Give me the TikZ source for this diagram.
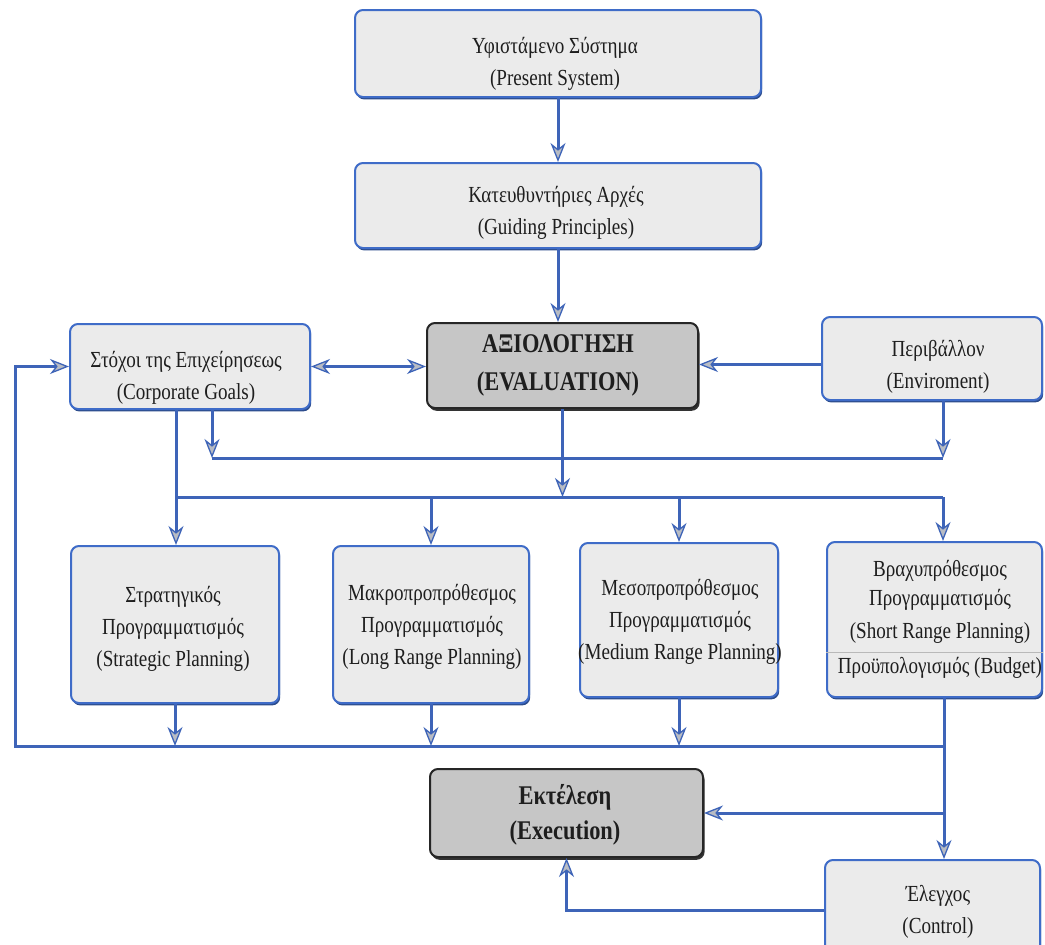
\documentclass[tikz,border=0pt]{standalone}
\usepackage{fontspec}
\setmainfont{Liberation Serif}[FakeStretch=0.83]
\usetikzlibrary{arrows.meta,shadows,calc}

\definecolor{linkblue}{HTML}{3E64B8}
\definecolor{boxblue}{HTML}{3F6CC8}
\definecolor{boxfill}{HTML}{EBEBEB}
\definecolor{keyfill}{HTML}{C6C6C6}
\definecolor{tipgray}{HTML}{B8BCC4}
\definecolor{inkgray}{HTML}{1E1E1E}

\tikzset{
  box/.style={draw=boxblue, line width=2pt, fill=boxfill, rounded corners=8pt,
    inner sep=0pt,
    drop shadow={shadow xshift=1.2pt, shadow yshift=-2.4pt, fill=boxblue!70!black, opacity=1}},
  keybox/.style={draw=black!85, line width=2pt, fill=keyfill, rounded corners=8pt,
    inner sep=0pt,
    drop shadow={shadow xshift=1.6pt, shadow yshift=-2.8pt, fill=black!80, opacity=1}},
  txt/.style={align=center, inner sep=0pt, text=inkgray,
    font=\fontsize{23}{32}\selectfont},
  keytxt/.style={align=center, inner sep=0pt, text=inkgray,
    font=\fontsize{27}{38}\selectfont\bfseries},
  link/.style={draw=linkblue, line width=3pt, line join=miter},
  tip/.tip={Stealth[length=19pt, width=15pt, inset=6pt, line width=1.3pt, fill=tipgray]},
  arr/.style={link, -tip},
  sepline/.style={draw=gray!55, line width=0.9pt}
}

\begin{document}
\begin{tikzpicture}[x=1pt, y=-1pt]
  \useasboundingbox (0,0) rectangle (1045,945);
  \fill[white] (0,0) rectangle (1045,945);

  % boxes
  \node[box, minimum width=406pt, minimum height=87pt] (pres) at (558,53.5) {};
  \node[box, minimum width=406pt, minimum height=85pt] (guid) at (558,205.5) {};
  \node[box, minimum width=240pt, minimum height=85pt] (corp) at (190,366.5) {};
  \node[keybox, minimum width=271pt, minimum height=85pt] (eval) at (562.5,365.5) {};
  \node[box, minimum width=220pt, minimum height=83pt] (env) at (932,358.5) {};
  \node[box, minimum width=208pt, minimum height=157pt] (strat) at (175,624.5) {};
  \node[box, minimum width=196pt, minimum height=157pt] (long) at (431,624.5) {};
  \node[box, minimum width=198pt, minimum height=154pt] (med) at (679,620) {};
  \node[box, minimum width=215pt, minimum height=155pt] (short) at (934.5,619.5) {};
  \node[keybox, minimum width=273pt, minimum height=88pt] (exec) at (566.5,813) {};
  \node[box, minimum width=215pt, minimum height=100pt] (ctrl) at (932.5,910) {};

  % texts
  \node[txt] (pres-t) at (555,63.5) {Υφιστάμενο Σύστημα\\(Present System)};
  \node[txt] (guid-t) at (556,212.5) {Κατευθυντήριες Αρχές\\(Guiding Principles)};
  \node[txt] (corp-t) at (186,377.5) {Στόχοι της Επιχείρησεως\\(Corporate Goals)};
  \node[keytxt] (eval-t) at (558,365) {ΑΞΙΟΛΟΓΗΣΗ\\(EVALUATION)};
  \node[txt] (env-t) at (938,367) {Περιβάλλον\\(Enviroment)};
  \node[txt] (strat-t) at (173,629) {Στρατηγικός\\Προγραμματισμός\\(Strategic Planning)};
  \node[txt] (long-t) at (432,627) {Μακροπροπρόθεσμος\\Προγραμματισμός\\(Long Range Planning)};
  \node[txt] (med-t) at (680,621.5) {Μεσοπροπρόθεσμος\\Προγραμματισμός\\(Medium Range Planning)};
  \node[txt, font=\fontsize{23}{29}\selectfont] (short-t) at (940,619)
    {Βραχυπρόθεσμος\\Προγραμματισμός\\[4pt](Short Range Planning)\\[6pt]Προϋπολογισμός (Budget)};
  \node[keytxt, font=\fontsize{27}{35}\selectfont\bfseries] (exec-t) at (565,814.5) {Εκτέλεση\\(Execution)};
  \node[txt] (ctrl-t) at (938,911.5) {Έλεγχος\\(Control)};

  % divider inside the short range box
  \draw[sepline] ($(short.west)+(0,32.5)$) -- ($(short.east)+(0,32.5)$);

  % junction points of the connector network
  \coordinate (cgl) at (212,458);
  \coordinate (cgr) at (943,458);
  \coordinate (dl) at (176,497);
  \coordinate (dr) at (943,497);
  \coordinate (bl) at (15,746);
  \coordinate (br) at (944,746);
  \coordinate (envout) at ($(env.west)+(0,6)$);

  % top chain
  \draw[arr] (pres) -- (guid);
  \draw[arr] (guid.south) -- (guid.south |- eval.north);

  % inputs to the evaluation
  \draw[link, tip-tip] (corp.east) -- (corp.east -| eval.west);
  \draw[arr] (envout) -- (envout -| eval.east);

  % collecting line under goals and environment
  \draw[arr] (corp.south -| cgl) -- (cgl);
  \draw[arr] (env.south -| cgr) -- (cgr);
  \draw[link] (cgl) -- (cgr);

  % distribution to the planning levels
  \draw[arr] (eval.south) -- (eval.south |- dl);
  \draw[arr] (corp.south -| dl) -- (dl |- strat.north);
  \draw[link] (dl) -- (dr);
  \draw[arr] (long.north |- dl) -- (long.north);
  \draw[arr] (med.north |- dl) -- (med.north);
  \draw[arr] (dr) -- (dr |- short.north);

  % outputs of the planning levels
  \draw[arr] (strat.south) -- (strat.south |- bl);
  \draw[arr] (long.south) -- (long.south |- bl);
  \draw[arr] (med.south) -- (med.south |- bl);

  % feedback loop to the corporate goals
  \draw[arr] (br) -- (bl) -- (bl |- corp.west) -- (corp.west);

  % execution and control
  \draw[arr] (short.south -| br) -- (br |- ctrl.north);
  \draw[arr] (exec.east -| br) -- (exec.east);
  \draw[arr] (ctrl.west) -| (exec.south);
\end{tikzpicture}
\end{document}
